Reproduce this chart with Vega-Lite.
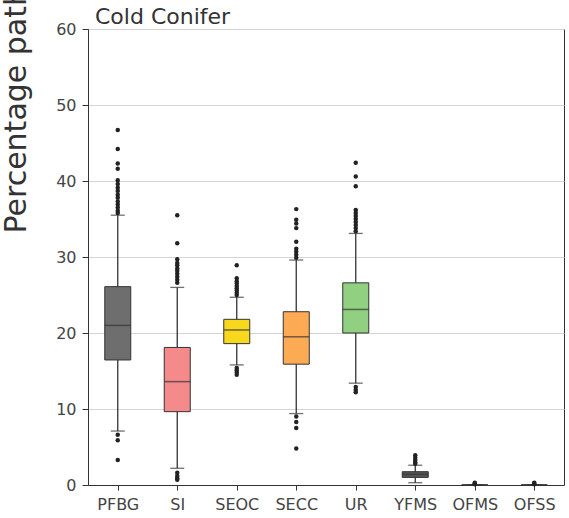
{
  "$schema": "https://vega.github.io/schema/vega-lite/v6.json",
  "width": 476,
  "height": 456,
  "autosize": {"type": "none"},
  "padding": {"left": 88, "top": 29, "right": 5, "bottom": 33},
  "background": "white",
  "title": {"text": "Cold Conifer", "anchor": "start", "frame": "group", "dx": 7, "dy": 141, "offset": 5, "baseline": "alphabetic", "fontSize": 22, "font": "DejaVu Sans", "fontWeight": "normal", "color": "#333"},
  "config": {
    "view": {"stroke": "#333", "strokeWidth": 1},
    "font": "DejaVu Sans"
  },
  "datasets": {
    "boxes": [
      {"cat": "PFBG", "lower": 7.1, "q1": 16.45, "median": 21.0, "q3": 26.1, "upper": 35.5},
      {"cat": "SI", "lower": 2.2, "q1": 9.65, "median": 13.6, "q3": 18.1, "upper": 26.0},
      {"cat": "SEOC", "lower": 15.8, "q1": 18.6, "median": 20.4, "q3": 21.8, "upper": 24.7},
      {"cat": "SECC", "lower": 9.4, "q1": 15.9, "median": 19.5, "q3": 22.8, "upper": 29.6},
      {"cat": "UR", "lower": 13.4, "q1": 20.0, "median": 23.1, "q3": 26.6, "upper": 33.1},
      {"cat": "YFMS", "lower": 0.3, "q1": 1.0, "median": 1.4, "q3": 1.75, "upper": 2.6},
      {"cat": "OFMS", "lower": 0, "q1": 0, "median": 0, "q3": 0, "upper": 0},
      {"cat": "OFSS", "lower": 0, "q1": 0, "median": 0, "q3": 0, "upper": 0}
    ],
    "out": [
      {"cat": "PFBG", "v": 46.7}, {"cat": "PFBG", "v": 44.2}, {"cat": "PFBG", "v": 42.3}, {"cat": "PFBG", "v": 41.6},
      {"cat": "PFBG", "v": 40.1}, {"cat": "PFBG", "v": 39.6}, {"cat": "PFBG", "v": 39.1}, {"cat": "PFBG", "v": 38.7},
      {"cat": "PFBG", "v": 38.2}, {"cat": "PFBG", "v": 37.8}, {"cat": "PFBG", "v": 37.3}, {"cat": "PFBG", "v": 36.9},
      {"cat": "PFBG", "v": 36.5}, {"cat": "PFBG", "v": 36.1}, {"cat": "PFBG", "v": 35.8},
      {"cat": "PFBG", "v": 6.6}, {"cat": "PFBG", "v": 5.9}, {"cat": "PFBG", "v": 3.3},
      {"cat": "SI", "v": 35.5}, {"cat": "SI", "v": 31.8}, {"cat": "SI", "v": 29.7}, {"cat": "SI", "v": 29.2},
      {"cat": "SI", "v": 28.9}, {"cat": "SI", "v": 28.5}, {"cat": "SI", "v": 28.2}, {"cat": "SI", "v": 27.8},
      {"cat": "SI", "v": 27.4}, {"cat": "SI", "v": 27.0}, {"cat": "SI", "v": 26.6},
      {"cat": "SI", "v": 1.6}, {"cat": "SI", "v": 1.2}, {"cat": "SI", "v": 0.9}, {"cat": "SI", "v": 0.7},
      {"cat": "SEOC", "v": 28.9}, {"cat": "SEOC", "v": 27.2}, {"cat": "SEOC", "v": 26.8}, {"cat": "SEOC", "v": 26.5},
      {"cat": "SEOC", "v": 26.2}, {"cat": "SEOC", "v": 25.9}, {"cat": "SEOC", "v": 25.6}, {"cat": "SEOC", "v": 25.3},
      {"cat": "SEOC", "v": 25.0}, {"cat": "SEOC", "v": 15.4}, {"cat": "SEOC", "v": 15.1}, {"cat": "SEOC", "v": 14.8},
      {"cat": "SEOC", "v": 14.5},
      {"cat": "SECC", "v": 36.3}, {"cat": "SECC", "v": 34.9}, {"cat": "SECC", "v": 34.4}, {"cat": "SECC", "v": 33.8},
      {"cat": "SECC", "v": 32.0}, {"cat": "SECC", "v": 31.1}, {"cat": "SECC", "v": 30.7}, {"cat": "SECC", "v": 30.3},
      {"cat": "SECC", "v": 29.9}, {"cat": "SECC", "v": 9.0}, {"cat": "SECC", "v": 8.3}, {"cat": "SECC", "v": 7.5},
      {"cat": "SECC", "v": 4.8},
      {"cat": "UR", "v": 42.4}, {"cat": "UR", "v": 40.6}, {"cat": "UR", "v": 39.3}, {"cat": "UR", "v": 36.2},
      {"cat": "UR", "v": 35.8}, {"cat": "UR", "v": 35.4}, {"cat": "UR", "v": 35.0}, {"cat": "UR", "v": 34.6},
      {"cat": "UR", "v": 34.2}, {"cat": "UR", "v": 33.8}, {"cat": "UR", "v": 33.4},
      {"cat": "UR", "v": 12.9}, {"cat": "UR", "v": 12.5}, {"cat": "UR", "v": 12.2},
      {"cat": "YFMS", "v": 3.9}, {"cat": "YFMS", "v": 3.6}, {"cat": "YFMS", "v": 3.3}, {"cat": "YFMS", "v": 3.0},
      {"cat": "YFMS", "v": 2.8},
      {"cat": "OFMS", "v": 0.3}, {"cat": "OFMS", "v": 0.2}, {"cat": "OFMS", "v": 0.1},
      {"cat": "OFSS", "v": 0.3}, {"cat": "OFSS", "v": 0.2}, {"cat": "OFSS", "v": 0.1}
    ]
  },
  "layer": [
    {
      "data": {"name": "boxes"},
      "mark": {"type": "rule", "color": "#333", "strokeWidth": 1.3},
      "encoding": {
        "x": {
          "field": "cat", "type": "nominal",
          "sort": ["PFBG", "SI", "SEOC", "SECC", "UR", "YFMS", "OFMS", "OFSS"],
          "scale": {"type": "point", "padding": 0.5, "domain": ["PFBG", "SI", "SEOC", "SECC", "UR", "YFMS", "OFMS", "OFSS"]},
          "axis": {
            "title": null, "labelAngle": 0, "labelFontSize": 16, "labelFont": "DejaVu Sans", "labelColor": "#444",
            "labelPadding": 6, "tickSize": 5, "tickColor": "#333", "domainColor": "#333", "grid": false
          }
        },
        "y": {
          "field": "lower", "type": "quantitative",
          "scale": {"domain": [0, 60], "nice": false, "zero": true},
          "axis": {
            "title": "Percentage pathways",
            "titleFontSize": 30, "titleFont": "DejaVu Sans", "titleFontWeight": "normal", "titleColor": "#333",
            "titleAngle": -90, "titleAlign": "left", "titleBaseline": "alphabetic", "titleX": -63, "titleY": 204,
            "values": [0, 5, 10, 15, 20, 25, 30, 35, 40, 45, 50, 55, 60],
            "labelExpr": "datum.value % 10 === 0 ? datum.label : ''",
            "labelFontSize": 16, "labelFont": "DejaVu Sans", "labelColor": "#444", "labelPadding": 6,
            "tickSize": 6,
            "tickColor": "#333", "domainColor": "#333",
            "grid": true,
            "gridColor": {"condition": {"test": "datum.value % 10 === 0", "value": "#d4d4d4"}, "value": "#e6e6e6"}
          }
        },
        "y2": {"field": "upper"}
      }
    },
    {
      "data": {"name": "boxes"},
      "mark": {"type": "bar", "size": 26, "stroke": "#333", "strokeWidth": 1},
      "encoding": {
        "x": {"field": "cat", "type": "nominal"},
        "y": {"field": "q1", "type": "quantitative"},
        "y2": {"field": "q3"},
        "color": {
          "field": "cat", "type": "nominal", "legend": null,
          "scale": {
            "domain": ["PFBG", "SI", "SEOC", "SECC", "UR", "YFMS", "OFMS", "OFSS"],
            "range": ["#6e6e6e", "#f48a8a", "#f7d81c", "#fdaa55", "#90d080", "#555555", "#555555", "#555555"]
          }
        }
      }
    },
    {
      "data": {"name": "boxes"},
      "mark": {"type": "tick", "size": 26, "thickness": 1.5, "color": "#333"},
      "encoding": {
        "x": {"field": "cat", "type": "nominal"},
        "y": {"field": "median", "type": "quantitative"}
      }
    },
    {
      "data": {"name": "boxes"},
      "mark": {"type": "tick", "size": 14, "thickness": 1.3, "color": "#333"},
      "encoding": {
        "x": {"field": "cat", "type": "nominal"},
        "y": {"field": "lower", "type": "quantitative"}
      }
    },
    {
      "data": {"name": "boxes"},
      "mark": {"type": "tick", "size": 14, "thickness": 1.3, "color": "#333"},
      "encoding": {
        "x": {"field": "cat", "type": "nominal"},
        "y": {"field": "upper", "type": "quantitative"}
      }
    },
    {
      "data": {"name": "out"},
      "mark": {"type": "point", "filled": true, "size": 20, "color": "#222", "opacity": 1},
      "encoding": {
        "x": {"field": "cat", "type": "nominal"},
        "y": {"field": "v", "type": "quantitative"}
      }
    }
  ]
}
